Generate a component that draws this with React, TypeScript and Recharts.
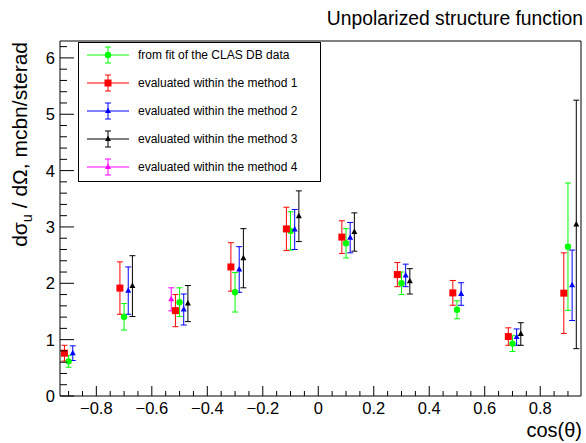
import React from 'react';
import { ScatterChart, Scatter, XAxis, YAxis, ErrorBar, ReferenceLine } from 'recharts';

// cos(theta) bins, each method is drawn slightly shifted inside its bin
const fitX = [-0.9, -0.7, -0.5, -0.3, -0.1, 0.1, 0.3, 0.5, 0.7, 0.9];
const fitY = [0.615, 1.405, 1.665, 1.84, 2.93, 2.71, 2.0, 1.53, 0.93, 2.65];
const fitErr = [0.105, 0.235, 0.255, 0.35, 0.34, 0.26, 0.2, 0.16, 0.14, 1.13];

const m1X = [-0.915, -0.715, -0.515, -0.315, -0.115, 0.085, 0.285, 0.485, 0.685, 0.885];
const m1Y = [0.76, 1.915, 1.515, 2.29, 2.965, 2.82, 2.155, 1.83, 1.055, 1.825];
const m1Err = [0.14, 0.465, 0.285, 0.43, 0.385, 0.29, 0.215, 0.22, 0.155, 0.715];

const m2X = [-0.885, -0.685, -0.485, -0.285, -0.085, 0.115, 0.315, 0.515, 0.715, 0.915];
const m2Y = [0.76, 1.87, 1.535, 2.245, 2.955, 2.81, 2.14, 1.81, 1.045, 1.965];
const m2Err = [0.13, 0.42, 0.275, 0.405, 0.355, 0.27, 0.2, 0.2, 0.145, 0.625];

const m3X = [-0.67, -0.47, -0.27, -0.07, 0.13, 0.33, 0.73, 0.93];
const m3Y = [1.95, 1.64, 2.445, 3.19, 2.91, 2.035, 1.1, 3.045];
const m3Err = [0.54, 0.32, 0.525, 0.45, 0.34, 0.225, 0.2, 2.205];

const m4X = [-0.53];
const m4Y = [1.715];
const m4Err = [0.205];

const xMajorTicks = [-0.8, -0.6, -0.4, -0.2, 0, 0.2, 0.4, 0.6, 0.8];
const yMajorTicks = [0, 1, 2, 3, 4, 5, 6];

const X_MIN = -0.931;
const X_MAX = 0.947;
const Y_MAX = 6.3;

const FONT = '"Liberation Sans", Arial, Helvetica, sans-serif';

const toPoints = (xs: number[], ys: number[], errs: number[]) =>
  xs.map((x, i) => ({ x, y: ys[i], err: errs[i] }));

// minor ticks: 0.05 on x, 0.2 on y
const xTicks: number[] = [];
for (let i = -18; i <= 18; i++) xTicks.push(Math.round(i * 5) / 100);
const yTicks: number[] = [];
for (let i = 0; i <= 31; i++) yTicks.push(Math.round(i * 2) / 10);

const isMajor = (v: number, list: number[]) => list.some((m) => Math.abs(m - v) < 1e-6);
const fmt = (v: number) => (v < 0 ? '\u2212' + Math.abs(v) : String(v));

const XTick = (props: any) => {
  const { x, y, payload } = props;
  const major = isMajor(payload.value, xMajorTicks);
  return (
    <g>
      <line x1={x} x2={x} y1={y} y2={y - (major ? 10 : 5)} stroke="#000" />
      {major && (
        <text x={x} y={y + 17.5} textAnchor="middle" fontSize={16.5} fontFamily={FONT} fill="#000">
          {fmt(payload.value)}
        </text>
      )}
    </g>
  );
};

const YTick = (props: any) => {
  const { x, y, payload } = props;
  const major = isMajor(payload.value, yMajorTicks);
  return (
    <g>
      <line x1={x} x2={x + (major ? 14 : 7)} y1={y} y2={y} stroke="#000" />
      {major && (
        <text x={x - 5} y={y + 6} textAnchor="end" fontSize={16.5} fontFamily={FONT} fill="#000">
          {fmt(payload.value)}
        </text>
      )}
    </g>
  );
};

type Marker = 'circle' | 'square' | 'triangle';

const drawMarker = (kind: Marker, color: string, cx: number, cy: number) => {
  if (kind === 'square') return <rect x={cx - 3.5} y={cy - 3.5} width={7} height={7} fill={color} />;
  if (kind === 'circle') return <circle cx={cx} cy={cy} r={3.2} fill={color} />;
  return <polygon points={`${cx},${cy - 3.5} ${cx - 3},${cy + 2} ${cx + 3},${cy + 2}`} fill={color} />;
};

const series = [
  { name: 'from fit of the CLAS DB data', color: '#00ff00', marker: 'circle' as Marker, data: toPoints(fitX, fitY, fitErr) },
  { name: 'evaluated within the method 1', color: '#ff0000', marker: 'square' as Marker, data: toPoints(m1X, m1Y, m1Err) },
  { name: 'evaluated within the method 2', color: '#0000ff', marker: 'triangle' as Marker, data: toPoints(m2X, m2Y, m2Err) },
  { name: 'evaluated within the method 3', color: '#000000', marker: 'triangle' as Marker, data: toPoints(m3X, m3Y, m3Err) },
  { name: 'evaluated within the method 4', color: '#ff00ff', marker: 'triangle' as Marker, data: toPoints(m4X, m4Y, m4Err) },
];

const Legend = () => (
  <g>
    <rect x={78.5} y={42.5} width={242} height={139} fill="#fff" stroke="#000" />
    {series.map((s, i) => {
      const y = 55 + i * 28;
      return (
        <g key={s.name}>
          <line x1={87} x2={129} y1={y} y2={y} stroke={s.color} />
          <line x1={108} x2={108} y1={y - 8} y2={y + 8} stroke={s.color} />
          <line x1={105} x2={111} y1={y - 8} y2={y - 8} stroke={s.color} />
          <line x1={105} x2={111} y1={y + 8} y2={y + 8} stroke={s.color} />
          {drawMarker(s.marker, s.color, 108, y)}
          <text x={138} y={y + 4} fontSize={12} fontFamily={FONT} fill="#000">
            {s.name}
          </text>
        </g>
      );
    })}
  </g>
);

export default function App() {
  return (
    <div style={{ position: 'absolute', left: 0, top: 0, width: 586, height: 443, background: '#fff' }}>
      <ScatterChart width={586} height={443} margin={{ top: 41, right: 5, bottom: 0, left: 0 }}>
        <XAxis
          type="number"
          dataKey="x"
          domain={[X_MIN, X_MAX]}
          allowDataOverflow
          ticks={xTicks}
          interval={0}
          tickSize={0}
          tickMargin={0}
          tick={XTick}
          axisLine={{ stroke: '#000' }}
          height={47}
        />
        <YAxis
          type="number"
          dataKey="y"
          domain={[0, Y_MAX]}
          allowDataOverflow
          ticks={yTicks}
          interval={0}
          tickSize={0}
          tickMargin={0}
          tick={YTick}
          axisLine={{ stroke: '#000' }}
          width={60}
        />
        <ReferenceLine y={Y_MAX} stroke="#000" />
        <ReferenceLine x={X_MAX} stroke="#000" />
        {series.map((s) => (
          <Scatter
            key={s.name}
            name={s.name}
            data={s.data}
            fill={s.color}
            isAnimationActive={false}
            shape={(p: any) => drawMarker(s.marker, s.color, p.cx, p.cy)}
          >
            <ErrorBar dataKey="err" direction="y" width={3} stroke={s.color} strokeWidth={1} isAnimationActive={false} />
          </Scatter>
        ))}
      </ScatterChart>
      <svg width={586} height={443} style={{ position: 'absolute', left: 0, top: 0, pointerEvents: 'none' }}>
        <text x={583} y={25} textAnchor="end" fontSize={19.3} fontFamily={FONT} fill="#000">
          Unpolarized structure function
        </text>
        <text x={582} y={437} textAnchor="end" fontSize={20} fontFamily={FONT} fill="#000">
          cos(θ)
        </text>
        <text x={27} y={42} transform="rotate(-90 27 42)" textAnchor="end" fontSize={21} fontFamily={FONT} fill="#000">
          dσ
          <tspan fontSize={14.5} dy={5}>u</tspan>
          <tspan dy={-5}> / dΩ, mcbn/sterad</tspan>
        </text>
        <Legend />
      </svg>
    </div>
  );
}
